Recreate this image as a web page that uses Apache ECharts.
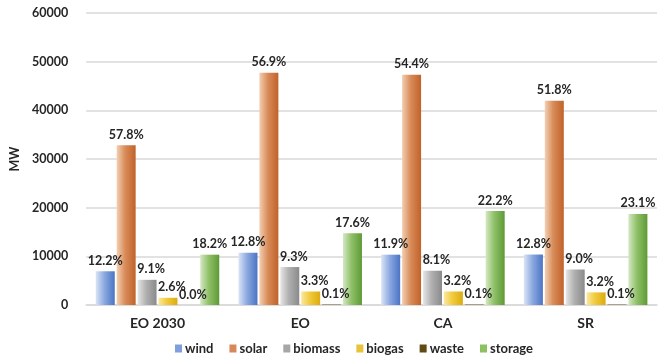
<!DOCTYPE html>
<html><head><meta charset="utf-8">
<script src="https://cdn.jsdelivr.net/npm/echarts@6/dist/echarts.min.js"></script>
<style>html,body{margin:0;padding:0;background:#fff}#c{width:662px;height:358px}</style>
</head><body><div id="c"></div>
<script>
const categories = ['EO 2030', 'EO', 'CA', 'SR'];
const yTicks = [0, 10000, 20000, 30000, 40000, 50000, 60000];
const wind = [6930, 10730, 10340, 10370];
const solar = [32850, 47700, 47290, 41950];
const biomass = [5170, 7800, 7040, 7290];
const biogas = [1480, 2770, 2780, 2590];
const waste = [0, 84, 87, 81];
const storage = [10340, 14750, 19300, 18710];
const windPct = ['12.2%', '12.8%', '11.9%', '12.8%'];
const solarPct = ['57.8%', '56.9%', '54.4%', '51.8%'];
const biomassPct = ['9.1%', '9.3%', '8.1%', '9.0%'];
const biogasPct = ['2.6%', '3.3%', '3.2%', '3.2%'];
const wastePct = ['0.0%', '0.1%', '0.1%', '0.1%'];
const storagePct = ['18.2%', '17.6%', '22.2%', '23.1%'];

const FONT = 'Lato';
function grad(a, b, c) {
  return new echarts.graphic.LinearGradient(0, 0, 1, 0, [
    {offset: 0, color: a}, {offset: 0.45, color: b}, {offset: 1, color: c}
  ]);
}
function mk(name, data, pct, color, offsetX) {
  return {
    name, type: 'bar', data,
    itemStyle: {color},
    barWidth: 19,
    barGap: '10%',
    label: {
      show: true, position: 'top', distance: 4,
      offset: [offsetX || 0, 0],
      formatter: p => pct[p.dataIndex],
      fontFamily: FONT, fontWeight: 'bold', fontSize: 12.5, color: '#262626'
    },
    emphasis: {disabled: true}
  };
}
const chart = echarts.init(document.getElementById('c'), null, {renderer: 'canvas'});
chart.setOption({
  animation: false,
  backgroundColor: '#fff',
  grid: {left: 73, right: 5, top: 13, bottom: 53, containLabel: false},
  legend: {
    bottom: -2, left: 170,
    itemWidth: 7, itemHeight: 8, itemGap: 16,
    textStyle: {fontFamily: FONT, fontWeight: 'bold', fontSize: 13, color: '#262626', padding: [0,0,0,-2]},
    icon: 'rect',
    data: [
      {name: 'wind', itemStyle: {color: '#7f9fdc'}},
      {name: 'solar', itemStyle: {color: '#d8875a'}},
      {name: 'biomass', itemStyle: {color: '#a6a6a6'}},
      {name: 'biogas', itemStyle: {color: '#e9c33a'}},
      {name: 'waste', itemStyle: {color: '#5f4a12'}},
      {name: 'storage', itemStyle: {color: '#8cc063'}}
    ]
  },
  xAxis: {
    type: 'category', data: categories,
    axisTick: {show: false},
    axisLine: {lineStyle: {color: '#d9d9d9', width: 1.5}},
    axisLabel: {fontFamily: FONT, fontWeight: 'bold', fontSize: 14, color: '#262626', margin: 11}
  },
  yAxis: {
    type: 'value', min: 0, max: 60000, interval: 10000,
    name: 'MW', nameLocation: 'middle', nameGap: 55, nameRotate: 90,
    nameTextStyle: {fontFamily: FONT, fontWeight: 'bold', fontSize: 12.5, color: '#262626'},
    axisLine: {show: false}, axisTick: {show: false},
    splitLine: {lineStyle: {color: '#d9d9d9', width: 1.5}},
    axisLabel: {fontFamily: FONT, fontWeight: 'bold', fontSize: 12.5, color: '#262626', margin: 18,
      formatter: v => yTicks.includes(v) ? String(v) : ''}
  },
  series: [
    mk('wind', wind, windPct, grad('#dbe4f6', '#8ba9e0', '#4a74c4')),
    mk('solar', solar, solarPct, grad('#f3cfb3', '#d88b58', '#c0622a')),
    mk('biomass', biomass, biomassPct, grad('#e6e6e6', '#b0b0b0', '#8a8a8a'), 4),
    mk('biogas', biogas, biogasPct, grad('#fbe8a0', '#f0cb3c', '#dcab10'), 4),
    mk('waste', waste, wastePct, '#5f4a12', 4),
    mk('storage', storage, storagePct, grad('#d4e8c2', '#8fc068', '#5e9a36'))
  ]
});
</script></body></html>
